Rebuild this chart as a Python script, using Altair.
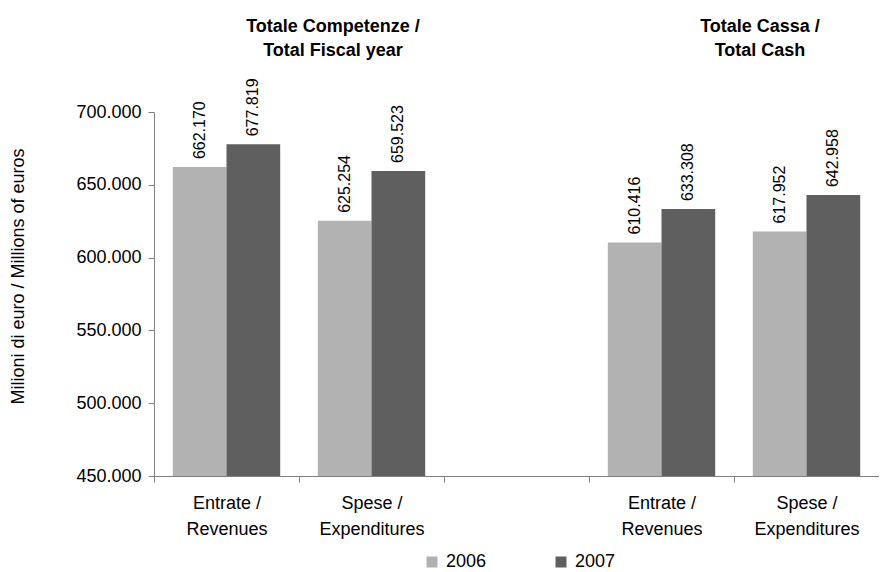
import altair as alt
import pandas as pd

categories = ["C_E", "C_S", "gap", "K_E", "K_S"]
years = ["2006", "2007"]
values_2006 = [662170, 625254, 610416, 617952]
values_2007 = [677819, 659523, 633308, 642958]
bar_cats = ["C_E", "C_S", "K_E", "K_S"]
y_ticks = [450000, 500000, 550000, 600000, 650000, 700000]
group_titles = ["Totale Competenze /\nTotal Fiscal year", "Totale Cassa /\nTotal Cash"]
colors = ["#b2b2b2", "#5f5f5f"]

rows = []
for c, v in zip(bar_cats, values_2006):
    rows.append({"cat": c, "year": "2006", "value": v})
for c, v in zip(bar_cats, values_2007):
    rows.append({"cat": c, "year": "2007", "value": v})
df = pd.DataFrame(rows)

FONT = "Liberation Sans"

label_expr = (
    "indexof(['C_E','K_E'], datum.value) >= 0 ? ['Entrate /', 'Revenues'] : "
    "(indexof(['C_S','K_S'], datum.value) >= 0 ? ['Spese /', 'Expenditures'] : '')"
)

x_enc = alt.X(
    "cat:N",
    sort=categories,
    scale=alt.Scale(domain=categories, paddingInner=0, paddingOuter=0),
    axis=alt.Axis(
        title=None,
        labelExpr=label_expr,
        labelAngle=0,
        labelFontSize=18,
        labelLineHeight=26,
        labelPadding=12,
        labelFont=FONT,
        labelColor="#000000",
        tickBand="extent",
        tickSize=6,
        tickColor="#808080",
        domainColor="#808080",
        labelLimit=300,
    ),
)
xoff = alt.XOffset(
    "year:N", scale=alt.Scale(domain=years, paddingInner=0, paddingOuter=0.35)
)
y_enc = alt.Y(
    "value:Q",
    scale=alt.Scale(domain=[450000, 700000], zero=False, nice=False),
    axis=alt.Axis(
        values=y_ticks,
        labelExpr="replace(format(datum.value, ','), ',', '.')",
        labelFontSize=18,
        labelFont=FONT,
        labelColor="#000000",
        labelPadding=7,
        tickSize=6,
        tickColor="#808080",
        domainColor="#808080",
        grid=False,
        title="Milioni di euro / Millions of euros",
        titleFont=FONT,
        titleFontSize=18,
        titleFontWeight="normal",
        titleColor="#000000",
        titleAngle=270,
        titleAlign="center",
        titleBaseline="middle",
        titleX=-136,
        titleY=164,
    ),
)

base = alt.Chart(df)

bars = base.mark_bar(clip=True).encode(
    x=x_enc,
    xOffset=xoff,
    y=y_enc,
    color=alt.Color(
        "year:N",
        scale=alt.Scale(domain=years, range=colors),
        legend=alt.Legend(
            title=None,
            orient="none",
            direction="horizontal",
            columns=2,
            legendX=269,
            legendY=441,
            symbolType="square",
            symbolSize=121,
            symbolStrokeWidth=0,
            labelFontSize=18,
            labelFont=FONT,
            labelColor="#000000",
            labelOffset=5,
            columnPadding=65,
            padding=0,
        ),
    ),
)

labels = base.transform_calculate(
    txt="replace(format(datum.value, ','), ',', '.')"
).mark_text(
    angle=270, align="left", baseline="middle", dx=8, fontSize=16, font=FONT, color="#000000"
).encode(
    x=alt.X("cat:N", sort=categories, scale=alt.Scale(domain=categories, paddingInner=0, paddingOuter=0)),
    xOffset=xoff,
    y=alt.Y("value:Q"),
    text="txt:N",
)

tdf = pd.DataFrame({"t": group_titles, "px": [179, 606]})
titles = alt.Chart(tdf).mark_text(
    font=FONT, fontSize=18, fontWeight="bold", align="center", baseline="top",
    lineBreak="\n", lineHeight=24, color="#000000",
).encode(
    x=alt.X("px:Q", scale=None),
    y=alt.value(-94),
    text="t:N",
)

chart = alt.layer(bars, labels, titles).properties(
    width=725,
    height=364,
    autosize=alt.AutoSizeParams(type="none"),
    padding={"left": 146, "top": 104, "right": 0, "bottom": 96},
).configure_view(stroke=None).configure_axis(domainWidth=1, tickWidth=1)

chart.save("out.html", embed_options={"renderer": "svg", "actions": False})
